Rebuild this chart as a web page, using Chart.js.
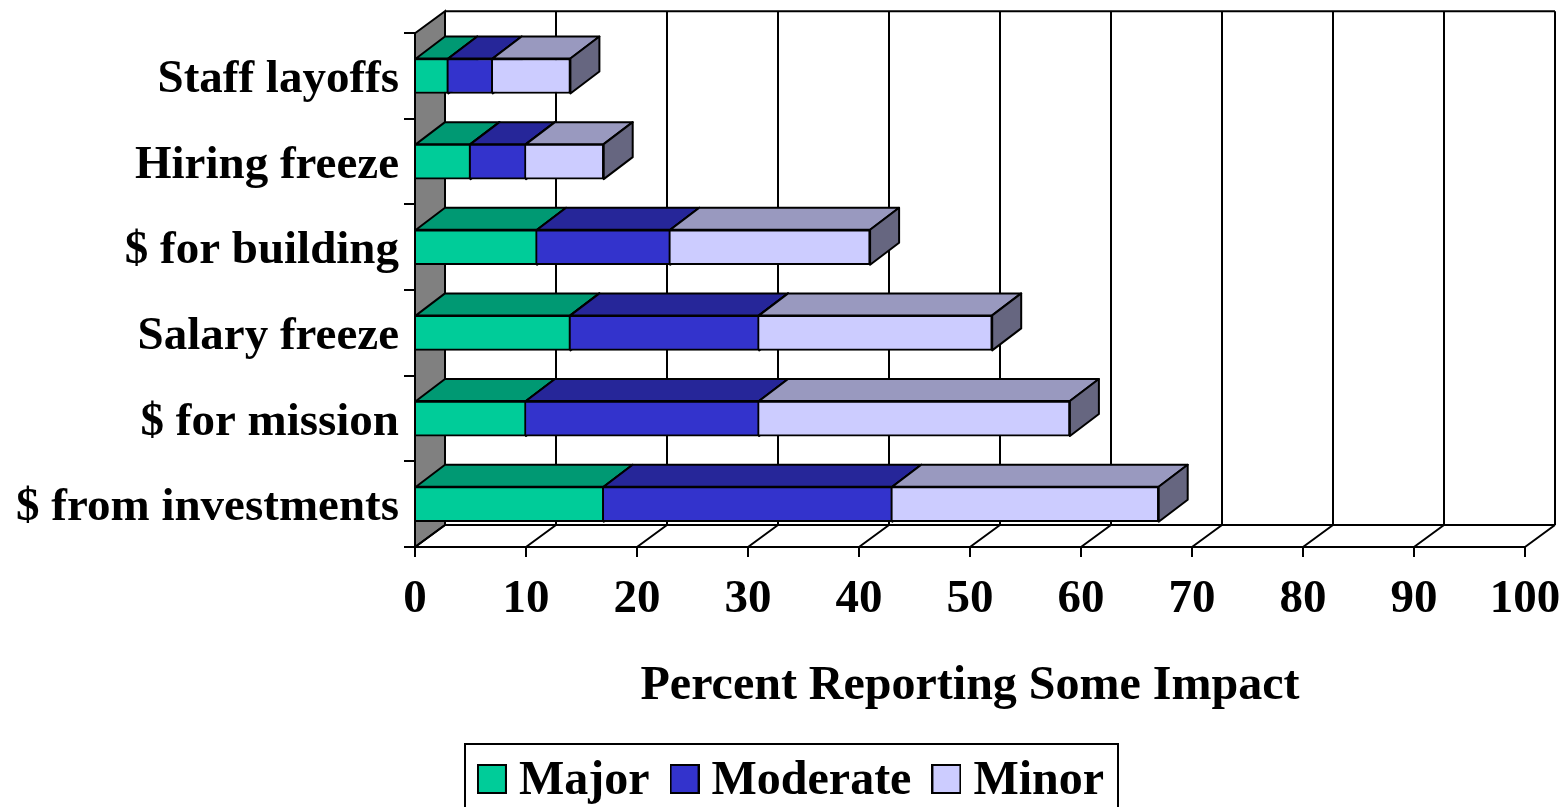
<!DOCTYPE html>
<html lang="en">
<head>
    <meta charset="UTF-8">
    <title>Percent Reporting Some Impact</title>
    <script src="https://cdn.jsdelivr.net/npm/chart.js"></script>
    <style>
        html, body { margin: 0; padding: 0; background: #fff; overflow: hidden; }
        #wrap { width: 1568px; height: 807px; }
    </style>
</head>
<body>
    <div id="wrap"><canvas id="impactChart"></canvas></div>

    <script>
        const categories = ['Staff layoffs', 'Hiring freeze', '$ for building', 'Salary freeze', '$ for mission', '$ from investments'];
        const major = [3, 5, 11, 14, 10, 17];
        const moderate = [4, 5, 12, 17, 21, 26];
        const minor = [7, 7, 18, 21, 28, 24];

        const seriesNames = ['Major', 'Moderate', 'Minor'];
        const seriesColors = ['#00CC99', '#3333CC', '#CCCCFF'];
        const topColors = ['#009973', '#262699', '#9999BF'];
        const sideColors = ['#006650', '#1A1A66', '#666680'];

        const serif = "'Liberation Serif', 'Times New Roman', serif";
        const depthX = 30;
        const depthY = 22;
        const lineW = 2;

        // legend swatch, sits a little high in its canvas so it lines up with the text
        function swatch(color) {
            const c = document.createElement('canvas');
            c.width = 30;
            c.height = 36;
            const g = c.getContext('2d');
            g.fillStyle = color;
            g.strokeStyle = '#000';
            g.lineWidth = lineW;
            g.fillRect(1, 1, 28, 28);
            g.strokeRect(1, 1, 28, 28);
            return c;
        }

        function poly(ctx, pts, fill, width) {
            ctx.beginPath();
            pts.forEach((p, i) => i ? ctx.lineTo(p[0], p[1]) : ctx.moveTo(p[0], p[1]));
            ctx.closePath();
            if (fill) { ctx.fillStyle = fill; ctx.fill(); }
            ctx.lineWidth = width;
            ctx.strokeStyle = '#000';
            ctx.stroke();
        }

        // back wall, floor and legend frame, all hung off the real scales
        const box3d = {
            id: 'box3d',
            beforeLayout(chart) {
                const lg = chart.legend;
                if (lg && !lg._patched) {
                    const fit = lg.fit;
                    lg.fit = function () { fit.call(this); this.height = 63; };
                    lg._patched = true;
                }
            },
            afterLayout(chart) {
                const lg = chart.legend;
                lg.top = 726;
                lg.left += 34;
                lg.right += 34;
            },
            beforeDraw(chart) {
                const ctx = chart.ctx;
                const { left, right, top, bottom } = chart.chartArea;
                const xs = chart.scales.x;
                ctx.save();
                poly(ctx, [[left, top], [left + depthX, top - depthY], [left + depthX, bottom - depthY], [left, bottom]], '#808080', lineW);
                ctx.lineWidth = lineW;
                ctx.strokeStyle = '#000';
                ctx.beginPath();
                ctx.moveTo(left + depthX, top - depthY);
                ctx.lineTo(right + depthX, top - depthY);
                ctx.moveTo(left + depthX, bottom - depthY);
                ctx.lineTo(right + depthX, bottom - depthY);
                xs.ticks.forEach(t => {
                    const px = xs.getPixelForValue(t.value);
                    if (t.value > 0) {
                        ctx.moveTo(px + depthX, top - depthY);
                        ctx.lineTo(px + depthX, bottom - depthY);
                    }
                    ctx.moveTo(px, bottom);
                    ctx.lineTo(px + depthX, bottom - depthY);
                });
                ctx.stroke();
                ctx.restore();

                // legend frame, its bottom edge runs off the page
                ctx.save();
                ctx.lineWidth = lineW;
                ctx.strokeStyle = '#000';
                ctx.strokeRect(465, 744, 653, 70);
                ctx.restore();
            },
            beforeDatasetsDraw(chart) {
                const ctx = chart.ctx;
                const dx = depthX - 1;
                ctx.save();
                ctx.lineJoin = 'round';
                chart.data.datasets.forEach((ds, i) => {
                    chart.getDatasetMeta(i).data.forEach(bar => {
                        const x0 = bar.base;
                        const x1 = bar.x;
                        const t = bar.y - bar.height / 2;
                        const b = bar.y + bar.height / 2;
                        poly(ctx, [[x0, t], [x0 + dx, t - depthY], [x1 + dx, t - depthY], [x1, t]], topColors[i], lineW);
                        poly(ctx, [[x1, t], [x1 + dx, t - depthY], [x1 + dx, b - depthY], [x1, b]], sideColors[i], lineW);
                    });
                });
                ctx.restore();
            }
        };

        new Chart(document.getElementById('impactChart').getContext('2d'), {
            type: 'bar',
            data: {
                labels: categories,
                datasets: [major, moderate, minor].map((values, i) => ({
                    label: seriesNames[i],
                    data: values,
                    backgroundColor: seriesColors[i],
                    borderColor: '#000',
                    borderWidth: lineW,
                    barThickness: 35
                }))
            },
            options: {
                indexAxis: 'y',
                responsive: true,
                maintainAspectRatio: false,
                animation: false,
                layout: { padding: { top: 33, right: 43, left: 0, bottom: 0 } },
                scales: {
                    x: {
                        stacked: true,
                        min: 0,
                        max: 100,
                        afterFit(scale) {
                            scale.height = 197;
                            scale.paddingLeft = 0;
                            scale.paddingRight = 0;
                        },
                        border: { color: '#000', width: lineW },
                        grid: { drawOnChartArea: false, color: '#000', lineWidth: lineW, tickLength: 10 },
                        ticks: {
                            stepSize: 10,
                            autoSkip: false,
                            maxRotation: 0,
                            color: '#000',
                            padding: 15,
                            font: { family: serif, size: 47, weight: 'bold' }
                        },
                        title: {
                            display: true,
                            text: 'Percent Reporting Some Impact',
                            color: '#000',
                            padding: { top: 0, bottom: 29 },
                            font: { family: serif, size: 48, weight: 'bold' }
                        }
                    },
                    y: {
                        stacked: true,
                        afterFit(scale) { scale.width = 415; },
                        border: { color: '#000', width: lineW },
                        grid: { offset: true, drawOnChartArea: false, color: '#000', lineWidth: lineW, tickLength: 11 },
                        ticks: {
                            color: '#000',
                            padding: 5,
                            labelOffset: 4,
                            autoSkip: false,
                            font: { family: serif, size: 47, weight: 'bold' }
                        }
                    }
                },
                plugins: {
                    tooltip: { enabled: false },
                    legend: {
                        position: 'bottom',
                        labels: {
                            usePointStyle: true,
                            pointStyleWidth: 6,
                            boxHeight: 48,
                            padding: 32,
                            color: '#000',
                            font: { family: serif, size: 48, weight: 'bold' },
                            generateLabels: chart => chart.data.datasets.map((ds, i) => ({
                                text: ds.label,
                                fontColor: '#000',
                                pointStyle: swatch(seriesColors[i]),
                                datasetIndex: i
                            }))
                        }
                    }
                }
            },
            plugins: [box3d]
        });
    </script>
</body>
</html>
